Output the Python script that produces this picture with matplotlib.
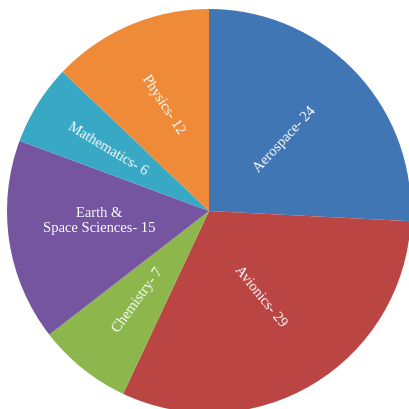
import matplotlib
matplotlib.use("Agg")
import matplotlib.pyplot as plt
import numpy as np

categories = ["Aerospace", "Avionics", "Chemistry", "Earth &\nSpace Sciences", "Mathematics", "Physics"]
values = [24, 29, 7, 15, 6, 12]
colors = ["#4176B5", "#BA4542", "#8DB64C", "#7655A0", "#38A8C4", "#EF8B38"]

# label layout (style): radius fraction, rotation
label_r = [0.52, 0.49, 0.56, 0.55, 0.59, 0.58]
label_rot = [47, -51, 54, 0, -31, -57]

W, H = 409, 410
fig = plt.figure(figsize=(W / 100, H / 100), dpi=100)
ax = fig.add_axes([0, 0, 1, 1])

cx, cy, R = 209, H - 212, 202
wedges, _ = ax.pie(values, colors=colors, startangle=90, counterclock=False,
                   center=(cx, cy), radius=R, frame=True,
                   wedgeprops=dict(linewidth=0))
ax.set_xlim(0, W)
ax.set_ylim(0, H)
ax.set_aspect("equal")
ax.axis("off")

total = sum(values)
start = 90.0
for i, (cat, v, rf, rot) in enumerate(zip(categories, values, label_r, label_rot)):
    span = v / total * 360
    mid = np.deg2rad(start - span / 2)
    start -= span
    x = cx + rf * R * np.cos(mid)
    y = cy + rf * R * np.sin(mid)
    if i == 3:
        y += 8
    ax.text(x, y, f"{cat}- {v}", rotation=rot, ha="center", va="center",
            color="white", fontsize=10.5, family="Liberation Serif",
            rotation_mode="anchor", linespacing=1.15)

fig.savefig("out.png", dpi=100)
